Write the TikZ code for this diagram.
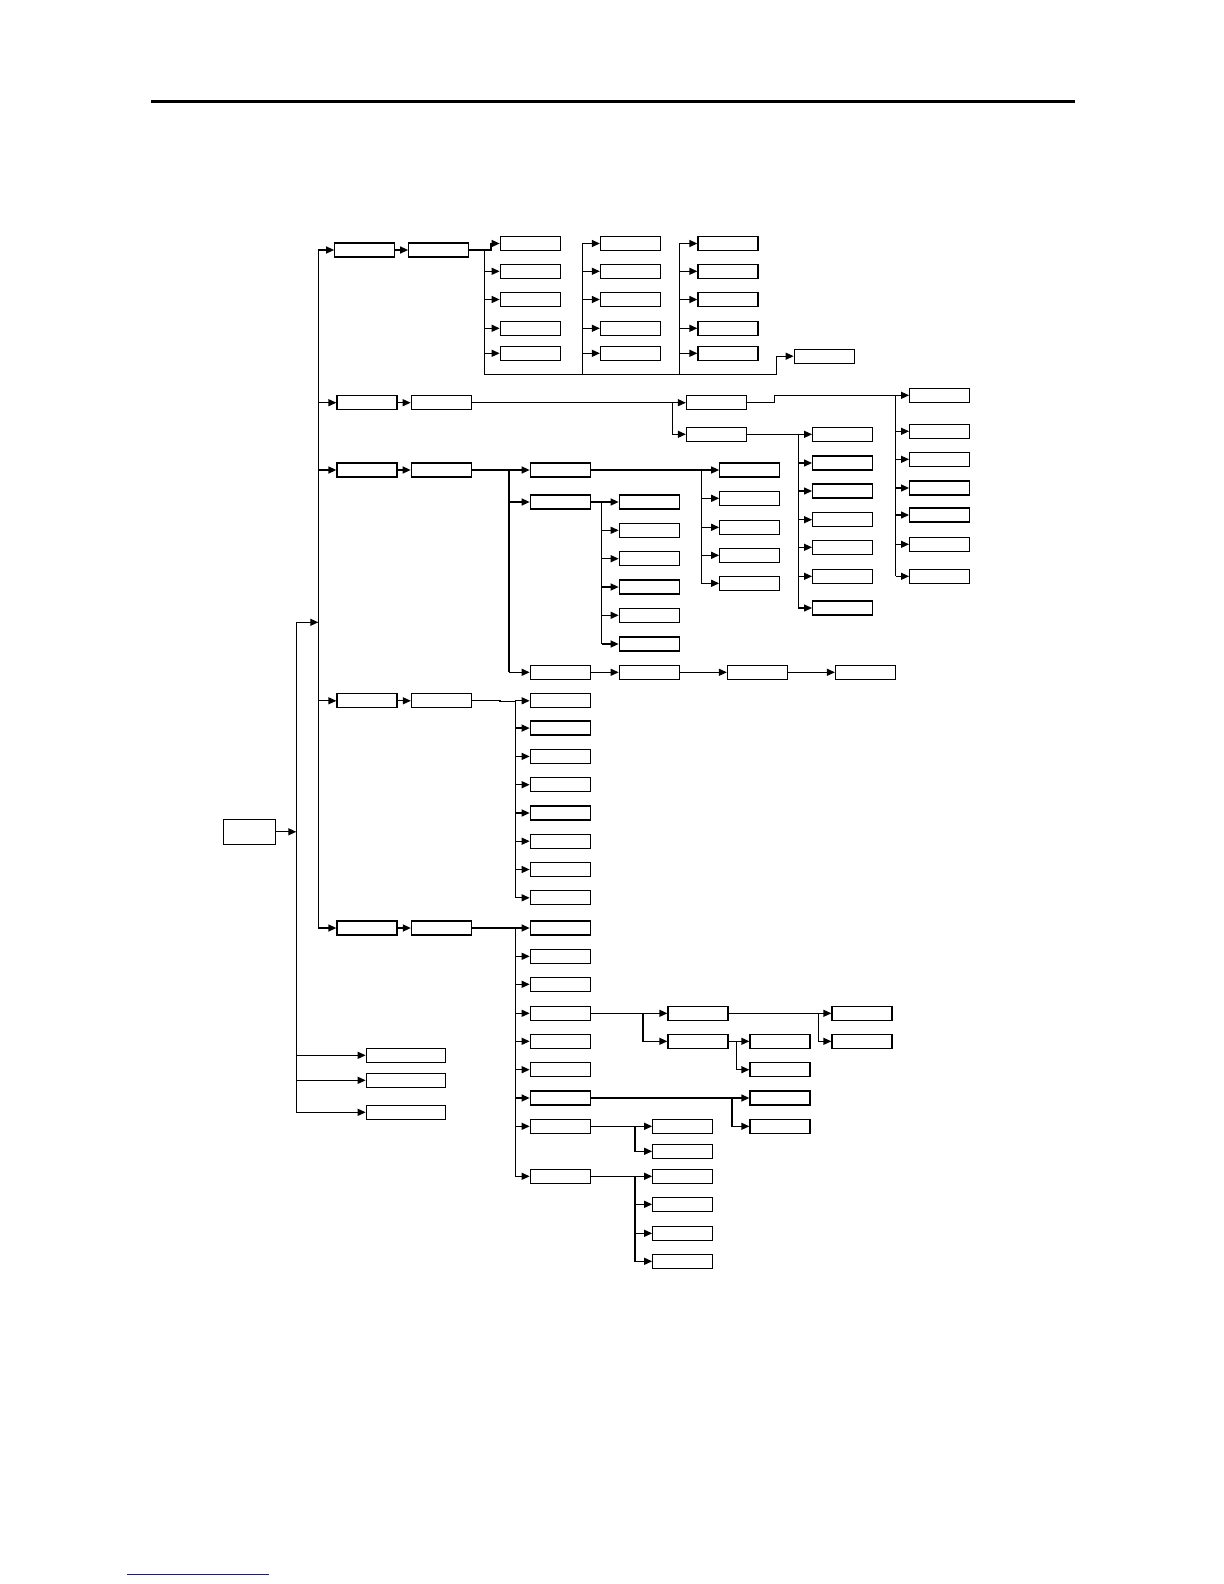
\documentclass[tikz,border=0pt]{standalone}
\usepackage{xcolor}
\usetikzlibrary{arrows.meta,positioning}
\definecolor{linkblue}{RGB}{25,25,160}
\tikzset{
  blk/.style={draw, minimum width=30pt, minimum height=7pt, inner sep=0pt},
  wblk/.style={blk, minimum width=39.7pt},
}

\begin{document}
\begin{tikzpicture}[x=0.5pt,y=-0.5pt,line width=0.65pt,>={Triangle[length=4pt,width=3.5pt]}]
  \useasboundingbox (0,0) rectangle (1224,1584);

  \draw[line width=1.25pt] (151,101.7)--(1075,101.7);
  \draw[linkblue,line width=0.6pt] (127.3,1574.7)--(269,1574.7);

  % root and trunks
  \node[blk,minimum width=26.2pt,minimum height=12.5pt] (root) at (249.5,831.8) {};
  \coordinate (lt) at (296.3,622.3);
  \coordinate (mt) at (318.3,250);
  \node[wblk] (lo1) at (406,1055.3) {};
  \node[wblk] (lo2) at (406,1080.3) {};
  \node[wblk] (lo3) at (406,1112.3) {};

  \node[blk] (a1) at (364.8,250) {};
  \node[blk] (a2) at (438.8,250) {};
  \node[blk] (b1) at (367,402.7) {};
  \node[blk] (b2) at (441.3,402.7) {};
  \node[blk] (c1) at (367,470) {};
  \node[blk] (c2) at (441.3,470) {};
  \node[blk] (d1) at (367,700.8) {};
  \node[blk] (d2) at (441.5,700.8) {};
  \node[blk] (e1) at (367,928) {};
  \node[blk] (e2) at (441.5,928) {};

  \draw[->] (root)--(root -| lt);
  \draw[->] (lt)--(lt -| mt);
  \draw (lt)--(lt |- lo3);
  \draw (mt)--(mt |- e1);
  \foreach \n in {a1,b1,c1,d1,e1}
    \draw[->] (mt |- \n)--(\n);
  \foreach \i in {1,2,3}
    \draw[->] (lt |- lo\i)--(lo\i);

  % branch a
  \foreach \y [count=\i] in {243.5,271.3,299.5,328.3,353.3} {
    \node[blk] (ap\i) at (530.3,\y) {};
    \node[blk] (aq\i) at (630.5,\y) {};
    \node[blk] (ar\i) at (728,\y) {};
  }
  \node[blk] (ax) at (824.3,356.2) {};
  \coordinate (pbus) at (484.3,374.3);
  \coordinate (qbus) at (582.3,374.3);
  \coordinate (rbus) at (679.3,374.3);
  \coordinate (xbus) at (776.7,374.3);
  \draw[->] (a1)--(a2);
  \draw[->] (a2)--(a2 -| pbus)--++(6.7,0)|-(ap1);
  \draw[->] (a2 -| pbus)--(pbus)--(xbus)|-(ax);
  \draw (qbus)--(qbus |- aq1);
  \draw (rbus)--(rbus |- ar1);
  \foreach \i in {2,...,5}
    \draw[->] (pbus |- ap\i)--(ap\i);
  \foreach \i in {1,...,5} {
    \draw[->] (qbus |- aq\i)--(aq\i);
    \draw[->] (rbus |- ar\i)--(ar\i);
  }

  % branch b
  \node[blk] (bc1) at (716.5,402.7) {};
  \node[blk] (bc2) at (716.5,434.3) {};
  \foreach \y [count=\i] in {395.3,431.3,459.3,488,515,544.3,576.3}
    \node[blk] (br\i) at (939.7,\y) {};
  \foreach \y [count=\i] in {434.3,463,491,519.7,547.3,576.3,608}
    \node[blk] (bs\i) at (842.7,\y) {};
  \coordinate (bbus) at (672.3,434.3);
  \coordinate (brb) at (895.7,576.3);
  \coordinate (bsb) at (798.3,608);
  \draw[->] (b1)--(b2);
  \draw[->] (b2)--(bc1);
  \draw[->] (b2 -| bbus)|-(bc2);
  \draw[->] (bc1.east)--++(27.6,0)|-(br1);
  \draw (brb |- br1)--(brb);
  \foreach \i in {2,...,7}
    \draw[->] (brb |- br\i)--(br\i);
  \draw[->] (bc2)--(bs1);
  \draw (bsb |- bs1)--(bsb);
  \foreach \i in {2,...,7}
    \draw[->] (bsb |- bs\i)--(bs\i);

  % branch c
  \node[blk] (ce1) at (560.3,470) {};
  \node[blk] (ce2) at (560.3,502) {};
  \node[blk] (ce3) at (560.3,672.3) {};
  \foreach \y [count=\i] in {470,498.3,527.3,555.3,583.3}
    \node[blk] (ct\i) at (749.8,\y) {};
  \foreach \y [count=\i] in {502,530.3,558.7,587,615.3,644}
    \node[blk] (cu\i) at (649.3,\y) {};
  \node[blk] (cf1) at (649.3,672.3) {};
  \node[blk] (cf2) at (757.5,672.3) {};
  \node[blk] (cf3) at (865.5,672.3) {};
  \coordinate (cbus) at (509,672.3);
  \coordinate (ctb) at (701.3,583.3);
  \coordinate (cub) at (601.7,644);
  \draw[->] (c1)--(c2);
  \draw[->] (c2)--(ce1);
  \draw (cbus |- ce1)--(cbus);
  \draw[->] (cbus |- ce2)--(ce2);
  \draw[->] (cbus)--(ce3);
  \draw[->] (ce1)--(ct1);
  \draw (ctb |- ct1)--(ctb);
  \foreach \i in {2,...,5}
    \draw[->] (ctb |- ct\i)--(ct\i);
  \draw[->] (ce2)--(cu1);
  \draw (cub |- cu1)--(cub);
  \foreach \i in {2,...,6}
    \draw[->] (cub |- cu\i)--(cu\i);
  \draw[->] (ce3)--(cf1);
  \draw[->] (cf1)--(cf2);
  \draw[->] (cf2)--(cf3);

  % branch d
  \foreach \y [count=\i] in {700.8,728.1,756.4,784.7,813,841.2,869.5,897.8}
    \node[blk] (dv\i) at (560.3,\y) {};
  \coordinate (dbus) at (515.3,897.8);
  \draw[->] (d1)--(d2);
  \draw (d2.east)--++(27.8,0)--++(0,1)-|(dbus);
  \foreach \i in {1,...,8}
    \draw[->] (dbus |- dv\i)--(dv\i);

  % branch e
  \foreach \y [count=\i] in {928,956.3,984.3,1013.3,1041.3,1069.7,1098,1126.3,1176.3}
    \node[blk] (ew\i) at (560.3,\y) {};
  \node[blk] (ej1) at (698,1013.3) {};
  \node[blk] (ej2) at (698,1041.3) {};
  \node[blk] (ek1) at (862,1013.3) {};
  \node[blk] (ek2) at (862,1041.3) {};
  \node[blk] (el1) at (780,1041.3) {};
  \node[blk] (el2) at (780,1069.7) {};
  \node[blk] (em1) at (780,1098) {};
  \node[blk] (em2) at (780,1126.3) {};
  \node[blk] (en1) at (682.8,1126.3) {};
  \node[blk] (en2) at (682.8,1151.3) {};
  \foreach \y [count=\i] in {1176.3,1204.3,1233.3,1261.3}
    \node[blk] (ep\i) at (682.8,\y) {};
  \coordinate (ebus) at (515.3,1176.3);
  \draw[->] (e1)--(e2);
  \draw (e2)-|(ebus);
  \foreach \i in {1,...,9}
    \draw[->] (ebus |- ew\i)--(ew\i);
  \draw[->] (ew4)--(ej1);
  \draw[->] (ew4.east)--++(52,0)|-(ej2);
  \draw[->] (ej1)--(ek1);
  \draw[->] (ej1.east)--++(90,0)|-(ek2);
  \draw[->] (ej2)--(el1);
  \draw[->] (ej2.east)--++(7.6,0)|-(el2);
  \draw[->] (ew7)--(em1);
  \draw[->] (ew7.east)--++(141,0)|-(em2);
  \draw[->] (ew8)--(en1);
  \draw[->] (ew8.east)--++(44,0)|-(en2);
  \draw[->] (ew9)--(ep1);
  \foreach \i in {2,3,4}
    \draw[->] (ew9.east)--++(44,0)|-(ep\i);
\end{tikzpicture}
\end{document}
